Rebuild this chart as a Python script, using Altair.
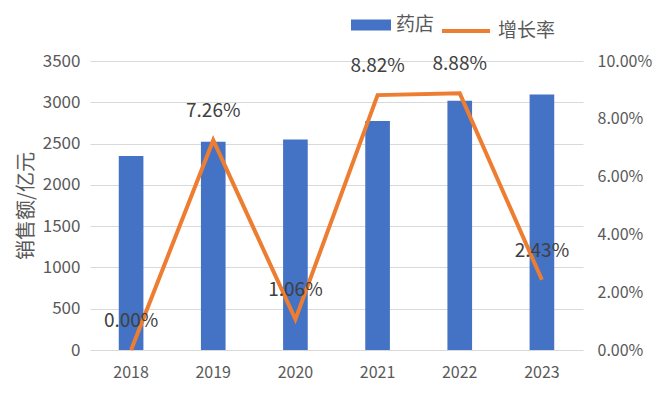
import altair as alt
import pandas as pd

years = ["2018", "2019", "2020", "2021", "2022", "2023"]
sales = [2350, 2521, 2548, 2773, 3019, 3093]
growth = [0.0, 0.0726, 0.0106, 0.0882, 0.0888, 0.0243]
bar_name = "药店"
line_name = "增长率"
left_ticks = [0, 500, 1000, 1500, 2000, 2500, 3000, 3500]
right_ticks = [0.0, 0.02, 0.04, 0.06, 0.08, 0.10]

df = pd.DataFrame({
    "year": years,
    "sales": sales,
    "growth": growth,
    "bar_series": [bar_name] * len(years),
    "line_series": [line_name] * len(years),
})

FONT = "Noto Sans CJK SC"
LABEL_COLOR = "#595959"

x = alt.X(
    "year:N",
    scale=alt.Scale(paddingInner=0.7, paddingOuter=0.35),
    axis=alt.Axis(title=None, labelAngle=0, labelFontSize=16, labelColor=LABEL_COLOR,
                  labelFont=FONT, labelPadding=14, ticks=False, domain=False, grid=False),
)

bars = alt.Chart(df).mark_bar().encode(
    x=x,
    y=alt.Y("sales:Q", scale=alt.Scale(domain=[0, 3500], nice=False),
            axis=alt.Axis(title="销售额/亿元", values=left_ticks, format="d", labelFontSize=17,
                          labelColor=LABEL_COLOR, labelFont=FONT, labelPadding=10,
                          ticks=False, domain=False, grid=True, gridColor="#d9d9d9",
                          titleFontSize=20, titleFont=FONT, titleColor=LABEL_COLOR,
                          titleFontWeight="normal", titlePadding=6)),
    fill=alt.Fill("bar_series:N", scale=alt.Scale(range=["#4472C4"]),
                  legend=alt.Legend(title=None, orient="none", legendX=261, legendY=-56,
                                    padding=0, symbolType="M-1,-0.28H1V0.28H-1Z",
                                    symbolSize=1600, symbolStrokeWidth=0, labelFontSize=19,
                                    labelFont=FONT, labelColor=LABEL_COLOR, labelOffset=5,
                                    symbolOpacity=1)),
)

right_axis = alt.Axis(title=None, orient="right", values=right_ticks, format=".2%",
                      labelFontSize=16, labelColor=LABEL_COLOR, labelFont=FONT,
                      labelPadding=14, ticks=False, domain=False, grid=False)

line = alt.Chart(df).mark_line(strokeWidth=4).encode(
    x=x,
    y=alt.Y("growth:Q", scale=alt.Scale(domain=[0, 0.1], nice=False), axis=right_axis),
    stroke=alt.Stroke("line_series:N", scale=alt.Scale(range=["#ED7D31"]),
                      legend=alt.Legend(title=None, orient="none", legendX=350, legendY=-56,
                                        padding=0, symbolType="stroke", symbolSize=2304,
                                        symbolStrokeWidth=4, labelFontSize=19, labelFont=FONT,
                                        labelColor=LABEL_COLOR, labelOffset=6)),
)

labels = alt.Chart(df).mark_text(dy=-29, fontSize=19, font=FONT, color="#404040").encode(
    x=x,
    y=alt.Y("growth:Q", scale=alt.Scale(domain=[0, 0.1], nice=False), axis=right_axis),
    text=alt.Text("growth:Q", format=".2%"),
)

chart = alt.layer(bars, alt.layer(line, labels)).resolve_scale(y="independent").properties(
    width=493, height=289,
    autosize=alt.AutoSizeParams(type="none"),
    padding={"left": 90, "top": 61, "right": 77, "bottom": 54},
    background="white",
).configure_view(stroke=None)

chart.save("out.html", embed_options={"renderer": "svg", "actions": False})
